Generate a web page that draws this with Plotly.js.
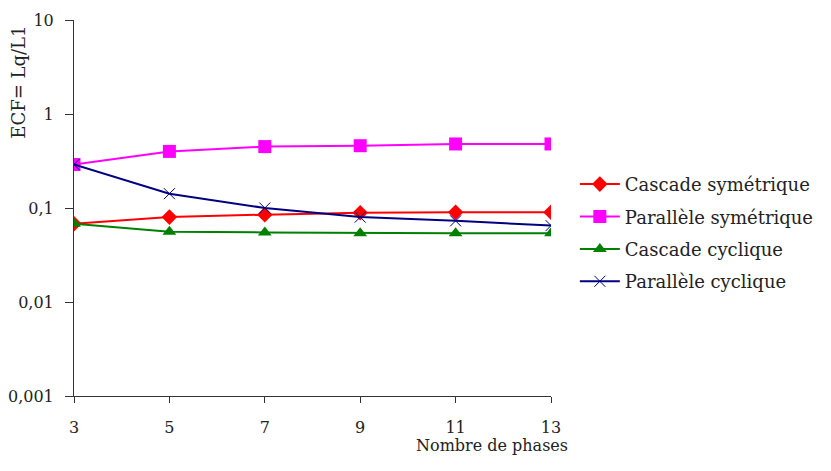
<!DOCTYPE html>
<html>
<head>
<meta charset="utf-8">
<script src="https://cdn.plot.ly/plotly-3.0.1.min.js"></script>
<style>html,body{margin:0;padding:0;background:#fff;}#chart{width:831px;height:471px;}</style>
</head>
<body>
<div id="chart"></div>
<script>
const phases = [3, 5, 7, 9, 11, 13];
const cascadeSym = [0.068, 0.080, 0.085, 0.089, 0.090, 0.090];
const paralleleSym = [0.29, 0.40, 0.45, 0.46, 0.48, 0.48];
const cascadeCyc = [0.068, 0.056, 0.055, 0.054, 0.054, 0.054];
const paralleleCyc = [0.29, 0.142, 0.100, 0.080, 0.073, 0.065];
const yTickVals = [0.001, 0.01, 0.1, 1, 10];
const yTickText = ["0,001", "0,01", "0,1", "1", "10"];
const xTickVals = [3, 5, 7, 9, 11, 13];

const font = "Century Schoolbook L, DejaVu Serif, serif";

const traces = [
  {x: phases, y: cascadeSym, name: "Cascade symétrique", legendgroup: "a", mode: "lines+markers",
   line: {color: "#ff0000", width: 2}, marker: {symbol: "diamond", size: 12, color: "#ff0000"}},
  {x: phases, y: paralleleSym, name: "Parallèle symétrique", legendgroup: "b", mode: "lines+markers",
   line: {color: "#ff00ff", width: 2}, marker: {symbol: "square", size: 13, color: "#ff00ff"}},
  {x: phases, y: cascadeCyc, name: "Cascade cyclique", legendgroup: "c", mode: "lines+markers",
   line: {color: "#008000", width: 2}, marker: {symbol: "triangle-up", size: 12, color: "#008000"}},
  {x: phases, y: paralleleCyc, name: "Parallèle cyclique", legendgroup: "d", mode: "lines+markers",
   line: {color: "#000080", width: 2}, marker: {symbol: "x-thin-open", size: 11, color: "#000080", line: {color: "#000080", width: 1}}}
];

const layout = {
  width: 831, height: 471,
  margin: {l: 74, r: 280, t: 20, b: 75},
  paper_bgcolor: "#fff", plot_bgcolor: "#fff",
  font: {family: font, size: 16, color: "#222"},
  showlegend: true,
  legend: {x: 1.05, xanchor: "left", y: 0.612, yanchor: "top",
           font: {family: font, size: 18, color: "#222"}, tracegroupgap: 6, itemwidth: 40},
  xaxis: {range: [3, 13], tickvals: xTickVals, ticks: "outside", ticklen: 6, tickcolor: "#333",
          ticklabelstandoff: 11,
          showline: true, linecolor: "#333", linewidth: 1, showgrid: false, zeroline: false,
          tickfont: {family: font, size: 16, color: "#222"}},
  yaxis: {type: "log", range: [-3, 1], tickvals: yTickVals, ticktext: yTickText, ticks: "outside",
          ticklen: 8, ticklabelstandoff: 8, tickcolor: "#333", showline: true, linecolor: "#333", linewidth: 1,
          showgrid: false, zeroline: false, tickfont: {family: font, size: 16, color: "#222"}},
  annotations: [
    {text: "ECF= Lq/L1", xref: "paper", yref: "paper", x: -0.118, y: 0.835, textangle: -90,
     showarrow: false, xanchor: "center", yanchor: "middle", font: {family: font, size: 18, color: "#222"}},
    {text: "Nombre de phases", xref: "paper", yref: "paper", x: 1.04, y: -0.1, showarrow: false,
     xanchor: "right", yanchor: "top", font: {family: font, size: 16, color: "#222"}}
  ]
};

Plotly.newPlot("chart", traces, layout, {staticPlot: true, displayModeBar: false});
</script>
</body>
</html>
